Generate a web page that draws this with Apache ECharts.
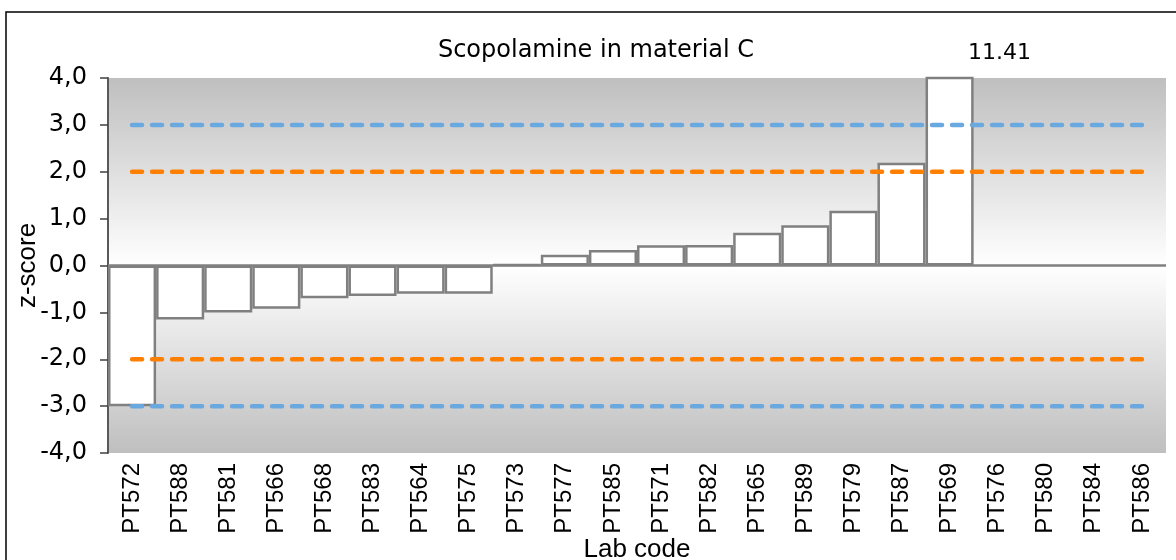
<!DOCTYPE html>
<html>
<head>
<meta charset="utf-8">
<script src="https://cdn.jsdelivr.net/npm/echarts@6/dist/echarts.min.js"></script>
<style>
html,body{margin:0;padding:0;background:#fff;}
#c{width:1176px;height:560px;}
</style>
</head>
<body>
<div id="c"></div>
<script>
var categories = ['PT572','PT588','PT581','PT566','PT568','PT583','PT564','PT575','PT573','PT577','PT585','PT571','PT582','PT565','PT589','PT579','PT587','PT569','PT576','PT580','PT584','PT586'];
var zScores = [-3.00,-1.15,-1.00,-0.92,-0.70,-0.65,-0.60,-0.60,0.02,0.23,0.33,0.43,0.44,0.70,0.86,1.17,2.19,11.41,null,null,null,null];
var upperAction = 3, lowerAction = -3, upperWarning = 2, lowerWarning = -2;
var yTicks = {min:-4, max:4, interval:1};
var titleText = 'Scopolamine in material C';
var yName = 'z-score', xName = 'Lab code';

function constLine(v){ return categories.map(function(){ return v; }); }

var chart = echarts.init(document.getElementById('c'), null, {renderer:'canvas'});
var blue = '#6aa8e0', orange = '#ff7f00';
function dashed(name, v, color){
  return {name:name, type:'line', data:constLine(v), symbol:'none', silent:true, z:5,
    lineStyle:{color:color, width:4.5, type:[10,10], cap:'round'}};
}
chart.setOption({
  animation:false,
  backgroundColor:'#fff',
  title:{text:titleText, left:591, top:34, textAlign:'center',
    textStyle:{fontFamily:'DejaVu Sans', fontSize:24, fontWeight:'normal', color:'#000'}},
  grid:{left:108, right:10, top:78, bottom:107, show:true, borderWidth:0,
    outerBoundsMode:'none', containLabel:false,
    backgroundColor:{type:'linear', x:0, y:0, x2:0, y2:1,
      colorStops:[{offset:0,color:'#bfbfbf'},{offset:0.5,color:'#ffffff'},{offset:1,color:'#bfbfbf'}]}},
  xAxis:{type:'category', data:categories, boundaryGap:true,
    axisLine:{show:false}, axisTick:{show:false},
    axisLabel:{rotate:90, interval:0, margin:10, color:'#000', fontFamily:'Liberation Sans', fontSize:24},
    name:xName, nameLocation:'middle', nameGap:84, nameMoveOverlap:false,
    nameTextStyle:{fontFamily:'Liberation Sans', fontSize:26, color:'#000'}},
  yAxis:{type:'value', min:yTicks.min, max:yTicks.max, interval:yTicks.interval,
    splitLine:{show:false},
    axisLine:{show:true, onZero:false, lineStyle:{color:'#595959', width:2}},
    axisTick:{show:true, length:8, lineStyle:{color:'#404040', width:1.5}},
    axisLabel:{margin:21, color:'#000', fontFamily:'DejaVu Sans', fontSize:24,
      formatter:function(v){ return v.toFixed(1).replace('.',','); }},
    name:yName, nameLocation:'middle', nameGap:67, nameMoveOverlap:false,
    nameTextStyle:{fontFamily:'Liberation Sans', fontSize:26, color:'#000'}},
  series:[
    {name:'z', type:'bar', data:zScores, barCategoryGap:0, barGap:0, clip:true, z:3,
      itemStyle:{color:'#ffffff', borderColor:'#808080', borderWidth:2.5},
      markLine:{silent:true, symbol:'none', label:{show:false}, z:4,
        lineStyle:{color:'#808080', width:2.5, type:'solid'}, data:[{yAxis:0}]}},
    dashed('upper action', upperAction, blue),
    dashed('lower action', lowerAction, blue),
    dashed('upper warning', upperWarning, orange),
    dashed('lower warning', lowerWarning, orange)
  ]
});

// label for the off-scale value
var idx = zScores.reduce(function(b,v,i){ return (v!==null && v>zScores[b]) ? i : b; }, 0);
var pt = chart.convertToPixel({xAxisIndex:0, yAxisIndex:0}, [categories[idx], yTicks.max]);
chart.setOption({graphic:[
  {type:'rect', silent:true, shape:{x:6, y:12, width:1300, height:700},
    style:{fill:'none', stroke:'#000', lineWidth:1.5}},
  {type:'text', silent:true, x:pt[0]+50, y:pt[1]-25,
    style:{text:zScores[idx].toFixed(2), fontFamily:'DejaVu Sans', fontSize:22, fill:'#000',
      align:'center', verticalAlign:'middle'}}
]});
</script>
</body>
</html>
